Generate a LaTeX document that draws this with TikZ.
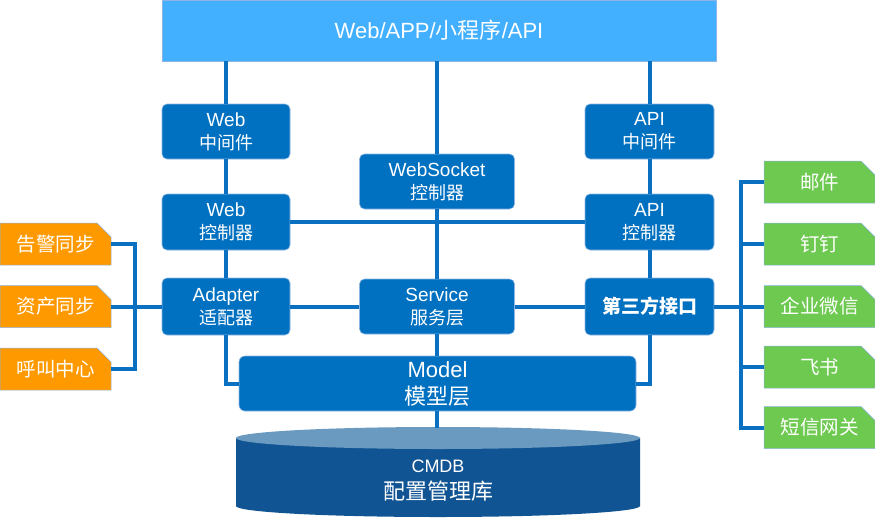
\documentclass[tikz,border=0pt]{standalone}
\usepackage{fontspec}
\setmainfont{Liberation Sans}
\newfontfamily\cjkfont{Noto Sans CJK SC}
\newcommand\zh[1]{{\fontsize{18}{23}\selectfont\cjkfont #1}}
\usetikzlibrary{shapes.misc}
\definecolor{boxblue}{HTML}{0070C0}
\definecolor{lineblue}{HTML}{0A70C2}
\definecolor{topblue}{HTML}{42AFFF}
\definecolor{edgeblue}{HTML}{8DB4E2}
\definecolor{orgfill}{HTML}{FF9900}
\definecolor{grnfill}{HTML}{6DC94F}
\definecolor{cylbody}{HTML}{105494}
\definecolor{cyltop}{HTML}{6A9AC0}
\begin{document}
\begin{tikzpicture}[x=1pt,y=-1pt,
  blk/.style={fill=boxblue, draw=edgeblue, line width=0.6pt, rounded corners=5pt, text=white, align=center, inner sep=0pt, font=\fontsize{19}{23}\selectfont},
  tag/.style={chamfered rectangle, chamfered rectangle corners=north east, chamfered rectangle xsep=7pt, chamfered rectangle ysep=7pt, draw=edgeblue, line width=0.5pt, text=white, inner sep=0pt, minimum width=111pt, minimum height=42pt, font=\fontsize{19.5}{23}\selectfont\cjkfont},
  conn/.style={draw=lineblue, line width=4pt}]
\useasboundingbox (0,0) rectangle (875,520);

% cylinder
\fill[cylbody] (236,438) -- (236,506) arc[start angle=180, end angle=0, x radius=202, y radius=11] -- (640,438) -- cycle;
\fill[cyltop] (438,438) ellipse[x radius=202, y radius=11];
\coordinate (cyltopc) at (437,428);
\node[text=white, align=center, font=\fontsize{22}{27}\selectfont] (cmdb) at (438,481) {{\fontsize{18}{27}\selectfont CMDB}\\{\cjkfont 配置管理库}};

% top bar
\node[fill=topblue, draw=edgeblue, line width=0.6pt, minimum width=554pt, minimum height=61pt, inner sep=0pt, text=white, font=\fontsize{22}{26}\selectfont] (top) at (439,30.5) {Web/APP/{\cjkfont 小程序}/API};

% blocks
\node[blk, minimum width=128pt, minimum height=55pt] (wmid) at (226,131.5) {Web\\\zh{中间件}};
\node[blk, minimum width=128pt, minimum height=56pt] (wctl) at (226,222) {Web\\\zh{控制器}};
\node[blk, minimum width=128pt, minimum height=57pt] (adp) at (226,306.5) {Adapter\\\zh{适配器}};
\node[blk, minimum width=155pt, minimum height=55pt] (ws) at (437,181.5) {WebSocket\\\zh{控制器}};
\node[blk, minimum width=155pt, minimum height=55pt] (svc) at (437,306.5) {Service\\\zh{服务层}};
\node[blk, minimum width=129pt, minimum height=55pt] (amid) at (649.5,131.5) {API\\\zh{中间件}};
\node[blk, minimum width=129pt, minimum height=56pt] (actl) at (649.5,222) {API\\\zh{控制器}};
\node[blk, minimum width=129pt, minimum height=57pt, font=\fontsize{19}{23}\selectfont\cjkfont\bfseries] (tpi) at (649.5,306.5) {第三方接口};
\node[blk, minimum width=397pt, minimum height=55pt, rounded corners=6pt, font=\fontsize{22}{27}\selectfont] (model) at (437.5,383.5) {Model\\{\cjkfont 模型层}};

% orange tags
\node[tag, fill=orgfill] (o1) at (55.5,244) {告警同步};
\node[tag, fill=orgfill] (o2) at (55.5,306.5) {资产同步};
\node[tag, fill=orgfill] (o3) at (55.5,369) {呼叫中心};

% green tags
\node[tag, fill=grnfill] (g1) at (819.5,182) {邮件};
\node[tag, fill=grnfill] (g2) at (819.5,244) {钉钉};
\node[tag, fill=grnfill] (g3) at (819.5,306.5) {企业微信};
\node[tag, fill=grnfill] (g4) at (819.5,367) {飞书};
\node[tag, fill=grnfill] (g5) at (819.5,427.5) {短信网关};

\coordinate (lbus) at (135,306.5);
\coordinate (rbus) at (741,306.5);

% connectors
\draw[conn] (top.south -| wmid.north) -- (wmid.north);
\draw[conn] (wmid) -- (wctl);
\draw[conn] (wctl) -- (adp);
\draw[conn] (adp.south) |- (model.west);
\draw[conn] (top.south -| ws.north) -- (ws.north);
\draw[conn] (ws) -- (svc);
\draw[conn] (svc.south) -- (svc.south |- model.north);
\draw[conn] (model.south -| cyltopc) -- (cyltopc);
\draw[conn] (top.south -| amid.north) -- (amid.north);
\draw[conn] (amid) -- (actl);
\draw[conn] (actl) -- (tpi);
\draw[conn] (tpi.south) |- (model.east);
\draw[conn] (wctl.east) -- (actl.west);
\draw[conn] (adp.east) -- (svc.west);
\draw[conn] (svc.east) -- (tpi.west);

\draw[conn] (o1.east) -| (lbus) |- (o3.east);
\draw[conn] (o2.east) -- (adp.west);
\draw[conn] (g1.west) -| (rbus) |- (g5.west);
\draw[conn] (g2.west) -- (g2.west -| rbus);
\draw[conn] (g4.west) -- (g4.west -| rbus);
\draw[conn] (tpi.east) -- (g3.west);
\end{tikzpicture}
\end{document}
